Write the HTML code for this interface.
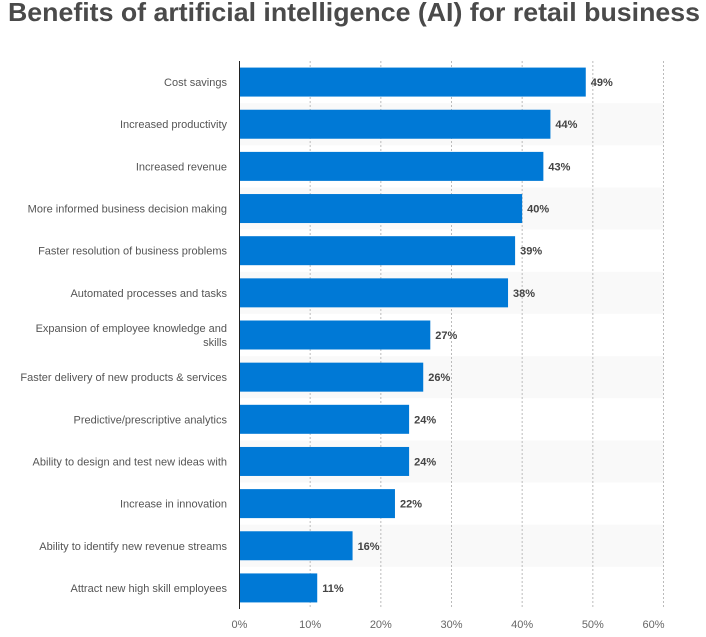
<!DOCTYPE html>
<html><head><meta charset="utf-8"><style>
body{margin:0;background:#fff;}
svg{display:block;font-family:"Liberation Sans",Arial,sans-serif;}
</style></head><body>
<svg id="chart" width="706" height="637" viewBox="0 0 706 637">
<text x="8" y="21" font-size="26" font-weight="bold" fill="#4a4a4a" textLength="692" lengthAdjust="spacingAndGlyphs">Benefits of artificial intelligence (AI) for retail business</text>
<g id="stripes"></g><g id="grid"></g><g id="bars"></g><g id="labels"></g><g id="ticks"></g>
<line x1="239.5" y1="61" x2="239.5" y2="609" stroke="#222" stroke-width="1"/>
</svg>
<script>
const categories = ["Cost savings","Increased productivity","Increased revenue","More informed business decision making","Faster resolution of business problems","Automated processes and tasks","Expansion of employee knowledge and|skills","Faster delivery of new products & services","Predictive/prescriptive analytics","Ability to design and test new ideas with","Increase in innovation","Ability to identify new revenue streams","Attract new high skill employees"];
const values = [49,44,43,40,39,38,27,26,24,24,22,16,11];
const tickValues = [0,10,20,30,40,50,60];
const tickLabels = ["0%","10%","20%","30%","40%","50%","60%"];

const NS="http://www.w3.org/2000/svg";
const x0=239.5, xMax=663.5, maxV=60;
function xs(v){return x0+(v/maxV)*(xMax-x0);}
const rowTop=61, rowH=(609-61)/categories.length;
function yc(i){return rowTop+rowH*(i+0.5);}
function mk(tag,attrs,parent){const e=document.createElementNS(NS,tag);for(const k in attrs)e.setAttribute(k,attrs[k]);parent.appendChild(e);return e;}
const gS=document.getElementById('stripes'),gG=document.getElementById('grid'),gB=document.getElementById('bars'),gL=document.getElementById('labels'),gT=document.getElementById('ticks');
categories.forEach((c,i)=>{
  if(i%2===1){
    const r=mk('rect',{x:x0,y:rowTop+rowH*i,width:xMax-x0,height:rowH,fill:'#f9f9f9'},gS);
    
    
  }
  const b=mk('rect',{x:x0,y:yc(i)-14.5,width:xs(values[i])-x0,height:29,fill:'#0079d6'},gB);
  
  
  const v=mk('text',{x:xs(values[i])+5,y:yc(i)+4,'font-size':11,'font-weight':'bold',fill:'#444'},gB);
  v.textContent=values[i]+'%';
  
  
  const lines=c.split('|');
  const t=mk('text',{x:227,y:yc(i)+4-(lines.length-1)*7,'font-size':11,fill:'#555','text-anchor':'end'},gL);
  
  
  lines.forEach((ln,j)=>{const s=mk('tspan',{x:227,dy:j?14:0},t);s.textContent=ln;});
});
tickValues.forEach((tv,i)=>{
  const x=xs(tv);
  if(tv>0){
    const l=mk('line',{x1:x,y1:61,x2:x,y2:609,stroke:'#bbb','stroke-width':1,'stroke-dasharray':'2,2'},gG);
    
    
  }
  const last=i===tickValues.length-1;
  const t=mk('text',{x:last?x+1:x,y:628,'font-size':11,fill:'#666','text-anchor':last?'end':'middle'},gT);
  t.textContent=tickLabels[i];
  
  
});
</script>
</body></html>
